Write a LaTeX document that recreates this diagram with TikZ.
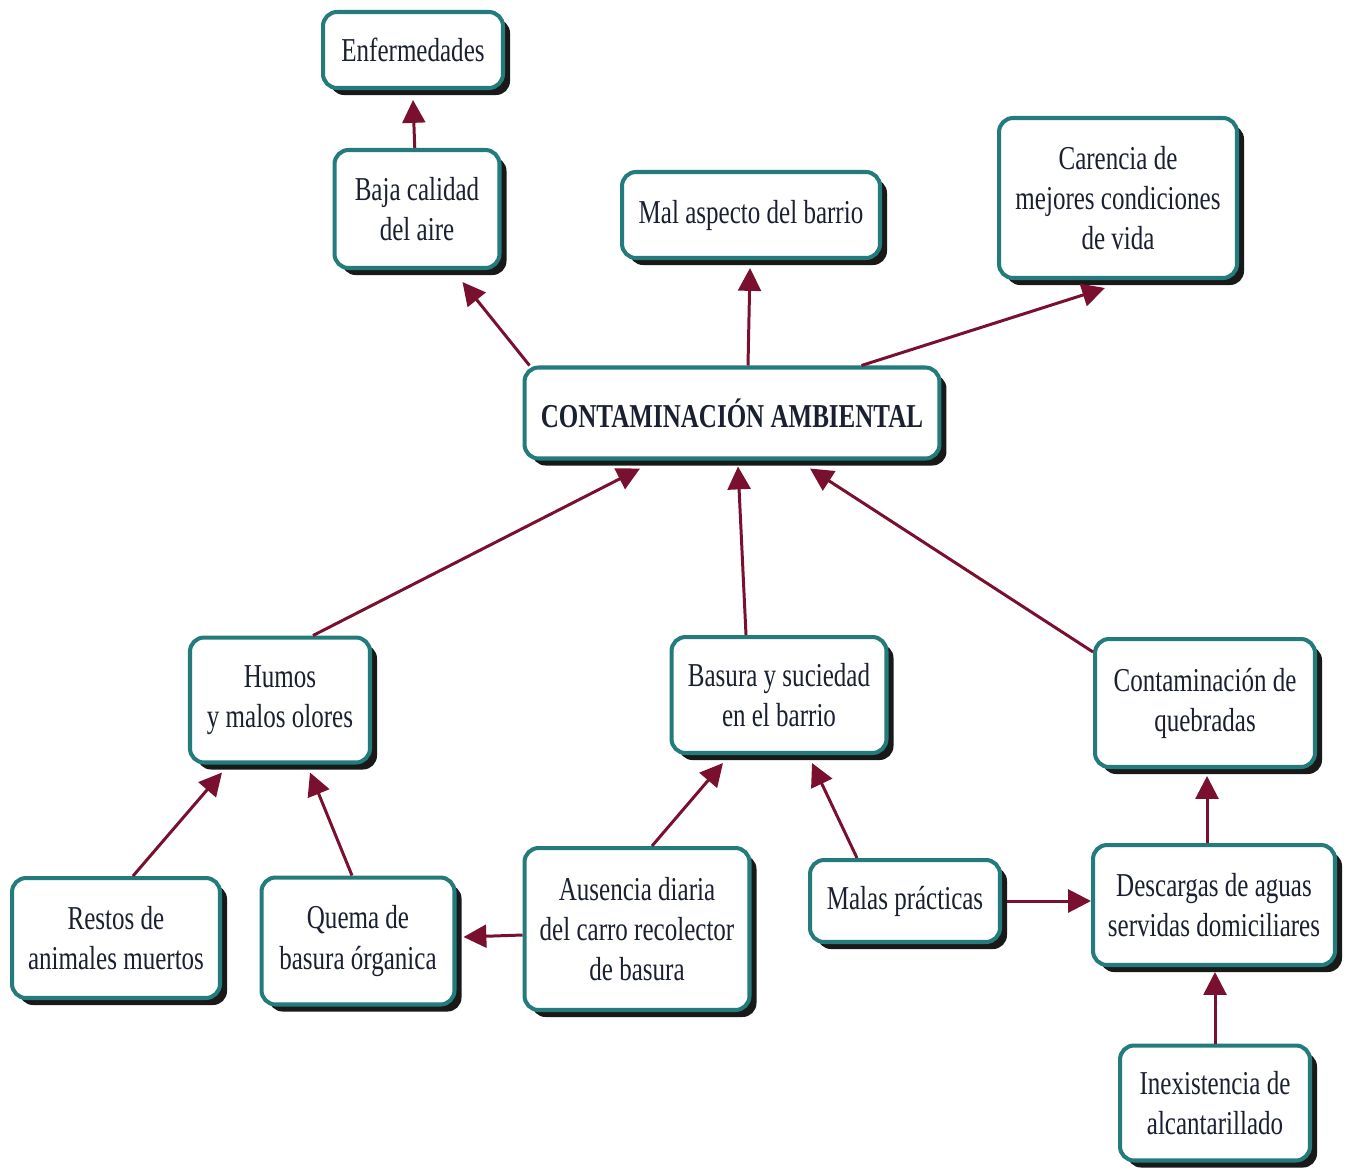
\documentclass[tikz,border=0pt]{standalone}
\usepackage{fontspec}
\setmainfont[FakeStretch=0.75]{Liberation Serif}
\usepackage{tikz}
\usetikzlibrary{arrows.meta,shadows,calc}
\definecolor{boxline}{HTML}{237B7B}
\definecolor{arrowred}{HTML}{7A1030}
\definecolor{boxtext}{HTML}{1A2030}
\tikzset{
  concept/.style 2 args={draw=boxline,line width=2.3pt,fill=white,rounded corners=8pt,
    minimum width=#1,minimum height=#2,align=center,text=boxtext,inner sep=2pt,
    font=\fontsize{19}{22.8}\selectfont,
    drop shadow={shadow xshift=4pt,shadow yshift=-4pt,fill=black!90,opacity=1}},
  link/.style={draw=arrowred,line width=1.7pt,-{Triangle[length=13pt,width=13pt]}},
}
\begin{document}
\begin{tikzpicture}[x=0.02cm,y=-0.02cm]
\useasboundingbox (0,0) rectangle (1352,1170);

% effects
\node[concept={3.6cm}{1.52cm}] (enf) at (413,50) {Enfermedades};
\node[concept={3.3cm}{2.36cm}] (aire) at (417,209) {Baja calidad\\del aire};
\node[concept={5.16cm}{1.72cm}] (aspecto) at (751,215) {Mal aspecto del barrio};
\node[concept={4.76cm}{3.2cm}] (carencia) at (1118,198) {Carencia de\\mejores condiciones\\de vida};

% central problem
\node[concept={8.3cm}{1.82cm},font=\fontsize{19}{22.8}\selectfont\bfseries] (cont) at (732,413) {CONTAMINACIÓN AMBIENTAL};

% causes
\node[concept={3.6cm}{2.5cm}] (humos) at (280,700) {Humos\\y malos olores};
\node[concept={4.3cm}{2.32cm}] (basura) at (779,695) {Basura y suciedad\\en el barrio};
\node[concept={4.4cm}{2.56cm}] (quebradas) at (1205,703) {Contaminación de\\quebradas};

\node[concept={4.16cm}{2.4cm}] (restos) at (116,938) {Restos de\\animales muertos};
\node[concept={3.86cm}{2.54cm}] (quema) at (358,941) {Quema de\\basura órganica};
\node[concept={4.5cm}{3.24cm}] (ausencia) at (637,929) {Ausencia diaria\\del carro recolector\\de basura};
\node[concept={3.8cm}{1.64cm}] (malas) at (905,901) {Malas prácticas};
\node[concept={4.84cm}{2.4cm}] (descargas) at (1214,905) {Descargas de aguas\\servidas domiciliares};
\node[concept={3.8cm}{2.3cm}] (inex) at (1215,1103) {Inexistencia de\\alcantarillado};

\draw[link] (aire) -- ($(enf.south)+(0,10)$);
\draw[link] ($(cont.north west)+(7,0)$) -- ($(aire.south west)+(130,12)$);
\draw[link] ($(cont.north)+(16,0)$) -- ($(aspecto.south)+(-1,8)$);
\draw[link] ($(cont.north east)+(-80,0)$) -- ($(carencia.south)+(-13,8)$);
\draw[link] ($(humos.north)+(33,0)$) -- ($(cont.south)+(-92,8)$);
\draw[link] ($(basura.north)+(-33,0)$) -- ($(cont.south)+(6,6)$);
\draw[link] ($(quebradas.north west)+(0,15)$) -- ($(cont.south)+(78,8)$);
\draw[link] ($(restos.north)+(17,0)$) -- ($(humos.south)+(-58,8)$);
\draw[link] ($(quema.north)+(-6,0)$) -- ($(humos.south)+(30,8)$);
\draw[link] ($(ausencia.north)+(15,0)$) -- ($(basura.south)+(-56,8)$);
\draw[link] ($(malas.north)+(-48,0)$) -- ($(basura.south)+(33,8)$);
\draw[link] ($(ausencia.west)+(0,6)$) -- ($(quema.east)+(7,-4)$);
\draw[link] ($(malas.east)+(5,0)$) -- ($(descargas.west)+(0,-4)$);
\draw[link] ($(descargas.north)+(-7,0)$) -- ($(quebradas.south)+(2,7)$);
\draw[link] (inex.north) -- ($(descargas.south)+(1,5)$);
\end{tikzpicture}
\end{document}
